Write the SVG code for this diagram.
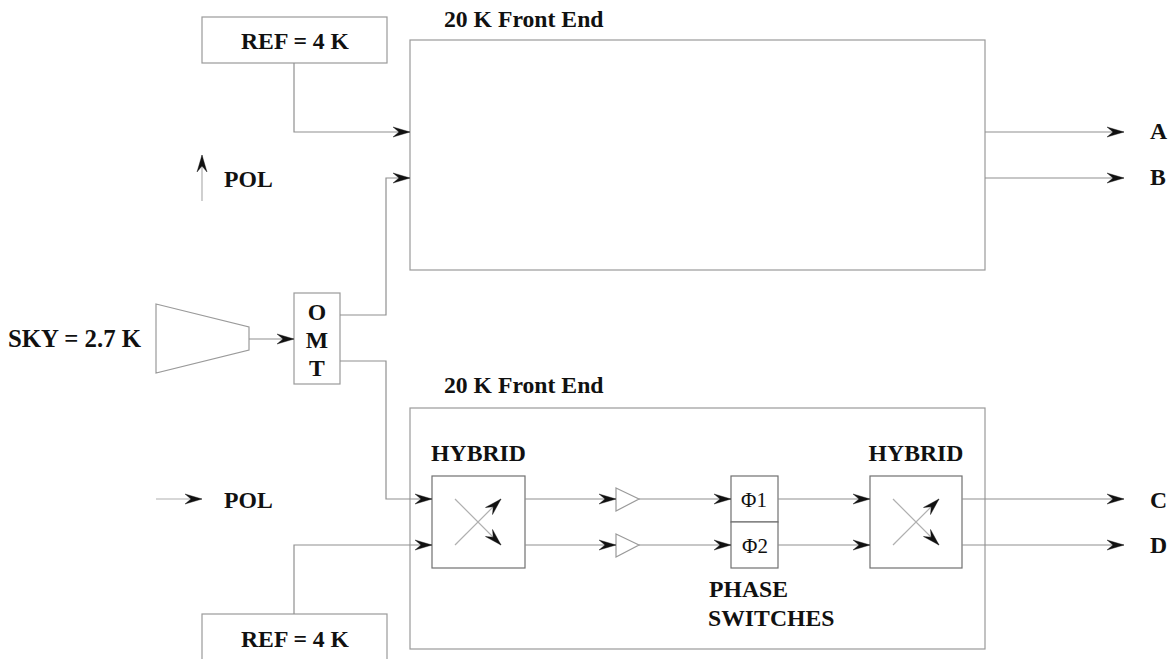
<svg xmlns="http://www.w3.org/2000/svg" width="1176" height="659" viewBox="0 0 1176 659">
<style>
.b{fill:#fff;stroke:#9a9a9a;stroke-width:1.2}
.k{fill:#fff;stroke:#707070;stroke-width:1.2}
.c{fill:none;stroke:#909090;stroke-width:1.2}
.d{fill:none;stroke:#b0b0b0;stroke-width:1.2}
text{font-family:"Liberation Serif","Times New Roman",serif;font-weight:bold;font-size:23.700px;fill:#111}
.m{text-anchor:middle}
.p{font-family:"Liberation Serif",serif;font-weight:normal;font-size:21px}
</style>
<defs>
<marker id="a" markerUnits="userSpaceOnUse" markerWidth="19" markerHeight="12" refX="17" refY="6" orient="auto">
<path d="M0 1 L17 6 L0 11 L6 6 Z" fill="#111" stroke="#111" stroke-width=".4"/>
</marker>
</defs>
<rect width="1176" height="659" fill="#fff"/>
<g id="ref-top"><rect class="b" x="202" y="17" width="185" height="46"/><text class="m" x="295" y="49">REF = 4 K</text></g>
<text x="224" y="187">POL</text>
<g id="front-end-top"><rect class="b" x="410" y="40" width="575" height="230"/><text x="444" y="27">20 K Front End</text></g>
<text x="1150" y="139">A</text>
<text x="1150" y="185">B</text>
<text x="8" y="347" style="font-size:24.800px">SKY = 2.7 K</text>
<g id="horn"><path class="b" d="M156 304L249 327V350L156 373Z"/></g>
<g id="omt"><rect class="b" x="294" y="293" width="46" height="91"/><text class="m" x="317" y="320">O</text><text class="m" x="317" y="348">M</text><text class="m" x="317" y="376">T</text></g>
<g id="front-end-bottom"><rect class="b" x="410" y="408" width="575" height="241"/><text x="444" y="393">20 K Front End</text></g>
<text x="224" y="508">POL</text>
<g id="hybrid-1"><rect class="k" x="432" y="476" width="93" height="92"/><text class="m" x="478.500" y="461">HYBRID</text></g>
<g id="amp-1"><path class="b" d="M616 488L639 499L616 511Z"/></g>
<g id="amp-2"><path class="b" d="M616 534L639 545L616 557Z"/></g>
<g id="phase-1"><rect class="k" x="731" y="476" width="47" height="46"/><text class="m p" x="754" y="507">Φ1</text></g>
<g id="phase-2"><rect class="k" x="731" y="522" width="47" height="46"/><text class="m p" x="755" y="553">Φ2</text></g>
<text x="709" y="597">PHASE</text>
<text x="708" y="626">SWITCHES</text>
<g id="hybrid-2"><rect class="k" x="870" y="476" width="92" height="92"/><text class="m" x="916" y="461">HYBRID</text></g>
<text x="1150" y="508">C</text>
<text x="1150" y="553">D</text>
<g id="ref-bottom"><rect class="b" x="202" y="614" width="185" height="46"/><text class="m" x="295" y="647">REF = 4 K</text></g>
<g id="connectors">
<path class="c" marker-end="url(#a)" d="M294 63V132H410"/>
<path class="c" marker-end="url(#a)" d="M340 315H386V178H410"/>
<path class="c" marker-end="url(#a)" d="M249 339H294"/>
<path class="c" marker-end="url(#a)" d="M340 361H386V499H432"/>
<path class="c" marker-end="url(#a)" d="M294 614V545H432"/>
<path class="c" marker-end="url(#a)" d="M985 132H1124"/>
<path class="c" marker-end="url(#a)" d="M985 178H1124"/>
<path class="c" marker-end="url(#a)" d="M525 499H616"/>
<path class="c" marker-end="url(#a)" d="M525 545H616"/>
<path class="c" marker-end="url(#a)" d="M639 499H731"/>
<path class="c" marker-end="url(#a)" d="M639 545H731"/>
<path class="c" marker-end="url(#a)" d="M778 499H870"/>
<path class="c" marker-end="url(#a)" d="M778 545H870"/>
<path class="c" marker-end="url(#a)" d="M962 499H1124"/>
<path class="c" marker-end="url(#a)" d="M962 545H1124"/>
<path class="d" marker-end="url(#a)" d="M202 201V155"/>
<path class="d" marker-end="url(#a)" d="M156 499H202"/>
<path class="d" marker-end="url(#a)" d="M455 499L501 545"/>
<path class="d" marker-end="url(#a)" d="M455 545L501 499"/>
<path class="d" marker-end="url(#a)" d="M893 499L939 545"/>
<path class="d" marker-end="url(#a)" d="M893 545L939 499"/>
</g>
</svg>
